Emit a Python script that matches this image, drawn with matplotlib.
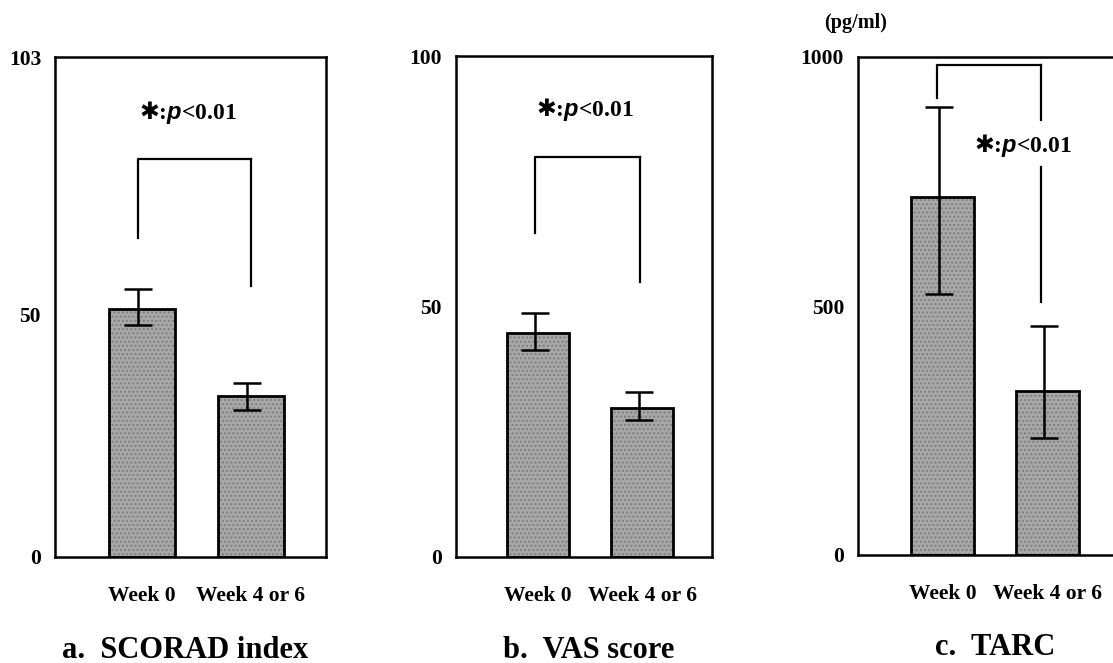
import numpy as np
import matplotlib
matplotlib.use("Agg")
import matplotlib.pyplot as plt

plt.rcParams['font.family'] = ['Liberation Serif', 'DejaVu Sans']
plt.rcParams['font.weight'] = 'bold'
plt.rcParams['mathtext.fontset'] = 'custom'
plt.rcParams['mathtext.it'] = 'Liberation Sans:italic:bold'
plt.rcParams['mathtext.rm'] = 'Liberation Serif:bold'
plt.rcParams['mathtext.sf'] = 'DejaVu Sans'

# --- data ---
groups = ["Week 0", "Week 4 or 6"]

scorad_mean = [51.1, 33.2]
scorad_err_lo = [3.3, 3.0]
scorad_err_hi = [4.1, 2.7]

vas_mean = [44.8, 29.8]
vas_err_lo = [3.4, 2.4]
vas_err_hi = [4.0, 3.2]

tarc_mean = [719, 329]
tarc_err_lo = [195, 94]
tarc_err_hi = [181, 131]

titles = ["a.  SCORAD index", "b.  VAS score", "c.  TARC"]
ymax = [103, 100, 1000]
yticks = [[0, 50, 103], [0, 50, 100], [0, 500, 1000]]

# bracket (left x, right x, top y, left bottom y, right bottom y)
brackets = [
    (-0.04, 1.0, 81.9, 65.7, 55.8),
    (-0.03, 0.98, 79.8, 64.6, 54.8),
    (-0.06, 0.94, 984, 918, 508),
]
sig_text_pos = [(0.42, 91.5), (0.45, 89.4), (0.76, 823)]
sig_label = "$\\mathsf{\u2731}$:$p$<0.01"

fig = plt.figure(figsize=(11.13, 6.63), dpi=100)
boxes = [
    [55 / 1113, 1 - 557 / 663, 271 / 1113, 500 / 663],
    [456 / 1113, 1 - 557 / 663, 256 / 1113, 501 / 663],
    [858 / 1113, 1 - 555 / 663, 260 / 1113, 498 / 663],
]
xlims = [(-0.80, 1.69), (-0.79, 1.67), (-0.81, 1.67)]
title_x = [0.48, 0.52, 0.527]

means = [scorad_mean, vas_mean, tarc_mean]
errs = [(scorad_err_lo, scorad_err_hi), (vas_err_lo, vas_err_hi),
        (tarc_err_lo, tarc_err_hi)]

for i in range(3):
    ax = fig.add_axes(boxes[i])
    x = np.arange(len(groups))
    # textured grey fill, then black outline
    ax.bar(x, means[i], width=0.6, color='#a8a8a8', edgecolor='#7e7e7e',
           hatch='....', linewidth=0, zorder=1)
    ax.bar(x, means[i], width=0.6, fill=False, edgecolor='black',
           linewidth=2, zorder=2)
    ax.errorbar(x - 0.035, means[i], yerr=[errs[i][0], errs[i][1]], fmt='none',
                ecolor='black', elinewidth=1.8, capsize=10, capthick=1.8, zorder=3)

    lx, rx, top, lb, rb = brackets[i]
    ax.plot([lx, lx, rx], [lb, top, top], color='black', lw=1.6)
    tx, ty = sig_text_pos[i]
    if i < 2:
        ax.plot([rx, rx], [top, rb], color='black', lw=1.6)
    else:
        ax.plot([rx, rx], [top, 873], color='black', lw=1.6)
        ax.plot([rx, rx], [779, rb], color='black', lw=1.6)
    ax.text(tx, ty, sig_label, ha='center', va='center', fontsize=17,
            fontweight='bold')

    ax.set_xlim(*xlims[i])
    ax.set_ylim(0, ymax[i])
    ax.set_yticks(yticks[i])
    ax.set_yticklabels([str(v) for v in yticks[i]])
    ax.set_xticks(x)
    ax.set_xticklabels(groups)
    ax.tick_params(axis='both', length=0, labelsize=15.5)
    ax.tick_params(axis='y', pad=10)
    ax.tick_params(axis='x', pad=21)
    for s in ax.spines.values():
        s.set_linewidth(1.8)
    ax.text(title_x[i], -0.186, titles[i], transform=ax.transAxes, ha='center',
            va='center', fontsize=22, fontweight='bold')
    if i == 2:
        ax.text(-0.01, 1.068, "(pg/ml)", transform=ax.transAxes, ha='center',
                va='center', fontsize=14.5, fontweight='bold')

fig.savefig("out.png", dpi=100)
